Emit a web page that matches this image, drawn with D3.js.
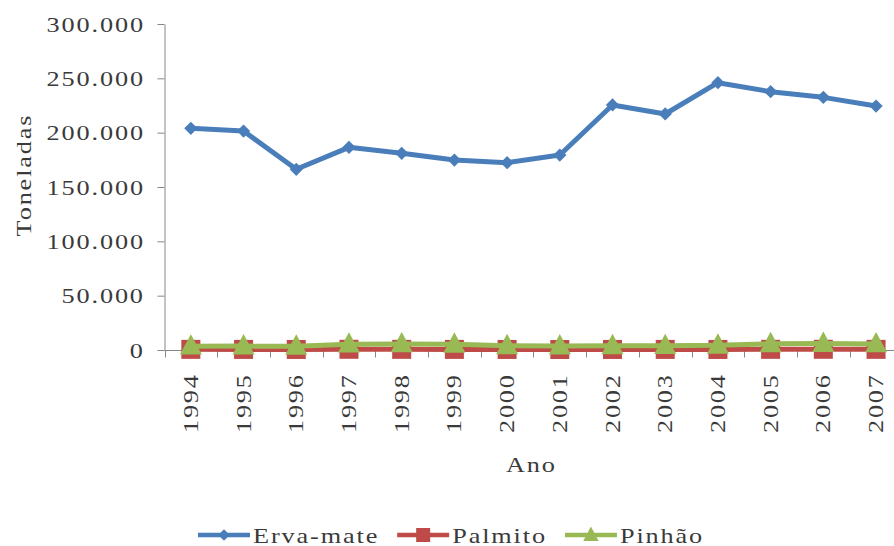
<!DOCTYPE html>
<html>
<head>
<meta charset="utf-8">
<script src="https://cdn.jsdelivr.net/npm/d3@7"></script>
<style>
  html, body { margin: 0; padding: 0; background: #fff; }
  svg { display: block; }
  text { font-family: "Liberation Serif", "Times New Roman", serif; fill: #3a3a3a; }
</style>
</head>
<body>
<svg id="chart" width="894" height="546"></svg>
<script>
// Produção extrativista (toneladas), 1994–2007
const anos = ["1994","1995","1996","1997","1998","1999","2000","2001","2002","2003","2004","2005","2006","2007"];
const ervaMate = [204000, 201500, 166300, 186500, 181000, 174800, 172400, 179400, 225500, 217200, 246000, 237700, 232500, 224500];
const palmito  = [600, 550, 500, 650, 600, 550, 500, 450, 500, 550, 500, 600, 650, 600];
const pinhao   = [3500, 3600, 3400, 5400, 5600, 5300, 3900, 3700, 3800, 4000, 4300, 5700, 5900, 5600];
const yTicks   = [0, 50000, 100000, 150000, 200000, 250000, 300000];
const seriesNames = ["Erva-mate", "Palmito", "Pinhão"];

const colors = { "Erva-mate": "#4A7EBB", "Palmito": "#BE4B48", "Pinhão": "#98B954" };
const FONT = 21, LS = 1.5, SX = 1.25;   // wide, lightly spaced serif lettering
const TEXT_COLOR = "#3a3a3a";

const svg = d3.select("#chart");
const ptBR = d3.formatLocale({ decimal: ",", thousands: ".", grouping: [3], currency: ["R$", ""] });
const fmt = ptBR.format(",.0f");

const x = d3.scaleBand().domain(anos).range([164.5, 902.4]);
const y = d3.scaleLinear().domain([0, 300000]).range([350, 24]);
const cx = d => x(d) + x.bandwidth() / 2;

// common text style; the horizontal stretch is applied along the baseline
function styleText(sel) {
  return sel.style("font-size", FONT + "px").style("letter-spacing", LS + "px").attr("fill", TEXT_COLOR);
}

// Y axis
const yAxis = svg.append("g").attr("transform", "translate(164.5,0)")
  .call(d3.axisLeft(y).tickValues(yTicks).tickSize(7).tickSizeOuter(0).tickFormat(fmt));
yAxis.select(".domain").attr("stroke", "#868686").attr("stroke-width", 1);
yAxis.selectAll(".tick line").attr("stroke", "#868686");
yAxis.selectAll(".tick text")
  .attr("x", 0)
  .attr("dy", "0.34em")
  .attr("transform", `translate(${-21.5 + LS * SX},0) scale(${SX},1)`)
  .style("font-family", "Liberation Serif")
  .call(styleText);

// X axis: line plus ticks on category boundaries
const xg = svg.append("g");
xg.append("line")
  .attr("x1", x.range()[0]).attr("x2", x.range()[1])
  .attr("y1", y(0) + 0.5).attr("y2", y(0) + 0.5)
  .attr("stroke", "#868686");
const bounds = anos.map(d => x(d)).concat([x.range()[1]]);
xg.selectAll("line.bt").data(bounds).join("line").attr("class", "bt")
  .attr("x1", d => Math.round(d) + 0.5).attr("x2", d => Math.round(d) + 0.5)
  .attr("y1", y(0)).attr("y2", y(0) + 7.5)
  .attr("stroke", "#868686");
xg.selectAll("text.yr").data(anos).join("text").attr("class", "yr")
  .attr("transform", d => `translate(${cx(d) + 7},${375 - LS * SX}) rotate(-90) scale(${SX},1)`)
  .attr("text-anchor", "end")
  .call(styleText)
  .text(d => d);

// Axis titles
svg.append("text")
  .attr("transform", `translate(31,175) rotate(-90) scale(${SX},1)`)
  .attr("text-anchor", "middle")
  .call(styleText)
  .text("Toneladas");
svg.append("text")
  .attr("transform", `translate(${(x.range()[0] + x.range()[1]) / 2 - 2},472) scale(${SX},1)`)
  .attr("text-anchor", "middle")
  .call(styleText)
  .text("Ano");

// Marker shapes
const markers = {
  "Erva-mate": s => d3.symbol().type(d3.symbolDiamond2).size(s * s * 0.5)(),
  "Palmito":   s => `M${-s/2},${-s/2}H${s/2}V${s/2}H${-s/2}Z`,
  "Pinhão":    s => `M0,${-s*0.6}L${s*0.55},${s*0.42}H${-s*0.55}Z`
};
const markerSize = { "Erva-mate": 15, "Palmito": 19, "Pinhão": 20 };

const data = { "Erva-mate": ervaMate, "Palmito": palmito, "Pinhão": pinhao };
const line = d3.line().x((d, i) => cx(anos[i])).y(d => y(d));

seriesNames.forEach(name => {
  const g = svg.append("g");
  g.append("path")
    .attr("d", line(data[name]))
    .attr("fill", "none")
    .attr("stroke", colors[name])
    .attr("stroke-width", 5)
    .attr("stroke-linejoin", "round");
  g.selectAll("path.m").data(data[name]).join("path").attr("class", "m")
    .attr("transform", (d, i) => `translate(${cx(anos[i])},${y(d)})`)
    .attr("d", markers[name](markerSize[name]))
    .attr("fill", colors[name]);
});

// Legend
const leg = svg.append("g");
let lx = 198;
const ly = 535;
seriesNames.forEach(name => {
  leg.append("line")
    .attr("x1", lx).attr("x2", lx + 52).attr("y1", ly).attr("y2", ly)
    .attr("stroke", colors[name]).attr("stroke-width", 4.5);
  leg.append("path")
    .attr("transform", `translate(${lx + 26},${ly})`)
    .attr("d", markers[name](name === "Erva-mate" ? 13 : 14))
    .attr("fill", colors[name]);
  const t = leg.append("text")
    .attr("transform", `translate(${lx + 55},${ly + 8}) scale(${SX},1)`)
    .call(styleText)
    .text(name);
  lx += 55 + t.node().getComputedTextLength() * SX + 18;
});
</script>
</body>
</html>
